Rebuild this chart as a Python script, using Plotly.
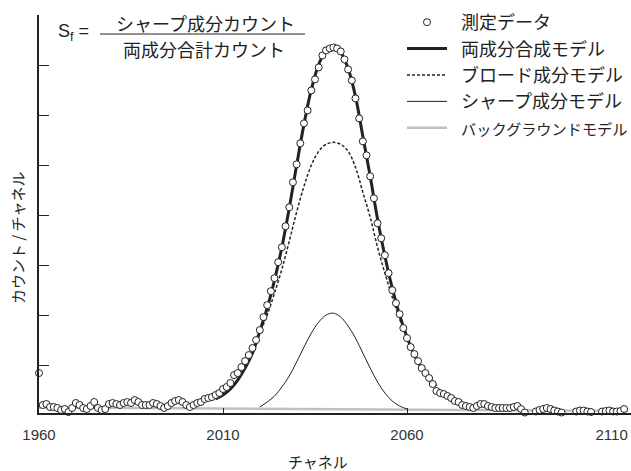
import plotly.graph_objects as go

# ---------------- data ----------------
channels = list(range(1960, 2120))
counts = [
    40,
    8, 9, 6, 6, 5, 3, 4, 1, 5,
    10, 8, 5, 4, 7, 11, 5, 3, 4, 9,
    10, 9, 8, 10, 11, 10, 13, 11, 8, 8,
    8, 10, 9, 7, 5, 7, 10, 12, 13, 11,
    8, 6, 8, 10, 11, 14, 15, 16, 18, 20,
    24, 26, 30, 38, 40, 46, 52, 58, 65, 73,
    83, 96, 108, 122, 135, 151, 166, 187, 206, 231,
    249, 270, 290, 303, 323, 334, 346, 358, 363, 365,
    366, 365, 362, 354, 344, 333, 315, 295, 272, 258,
    237, 215, 190, 175, 158, 140, 123, 110, 99, 85,
    75, 66, 59, 52, 45, 40, 35, 29, 22, 20,
    19, 17, 15, 12, 11, 8, 7, 6, 5, 7,
    9, 9, 7, 6, 5, 5, 5, 5, 5, 6,
    7, 4, 0.5, None, None, 1.5, 3, 4, 5, 4,
    2.5, 1.5, 0.5, None, None, None, 1.5, 2.5, 2.5, 1.5,
    1, None, None, 1.5, 2, 2.5, 1.5, 1.5, 2, 4,
]

model_channels = list(range(2008, 2070, 2))
total_model = [14, 18, 24, 33, 45, 60, 82, 105, 133, 166, 205, 248, 289, 324, 349,
               363, 367, 361, 345, 317, 277, 237, 194, 157, 125, 98, 76, 58, 45, 35, 27]
broad_model = [14, 18, 24, 33, 45, 59, 80, 98, 120, 144, 172, 201, 227, 248, 262,
               269, 271, 269, 262, 246, 221, 196, 166, 140, 116, 94, 75, 58, 45, 35, 27]

sharp_channels = list(range(2020, 2062, 2))
sharp_model = [6, 11, 17, 26, 37, 51, 66, 80, 91, 98, 100, 96, 87, 75, 60, 45, 31, 20, 12, 7, 4]

bg_channels = [1960, 2120]
bg_model = [5.5, 2.0]

x_tick_vals = [1960, 2010, 2060, 2115.6]
x_tick_text = ["1960", "2010", "2060", "2110"]
x_minor_ticks = [2010, 2060]
y_tick_vals = [48, 98, 148, 198, 248, 298, 348, 398]

SP = "\u2002"  # gap between legend sample and label
names = [SP + "測定データ", SP + "両成分合成モデル", SP + "ブロード成分モデル",
         SP + "シャープ成分モデル",
         SP + '<span style="font-size:15.2px">バックグラウンドモデル</span>']

# ---------------- layout geometry ----------------
W, H = 631, 471
L, R, T, B = 39, 0, 15, 58
PW, PH = W - L - R, H - T - B
PX_PER_CH = 3.68


def xp(px):
    return (px - L) / PW


def yp(py):
    return (H - B - py) / PH


JP = "Noto Sans CJK JP"
LAT = "Liberation Sans"
INK = "#222222"

fig = go.Figure()

fig.add_trace(go.Scatter(x=bg_channels, y=bg_model, mode="lines", name=names[4],
                         line=dict(color="#c0c0c0", width=2.5),
                         legendrank=5, legendgroup="e"))
fig.add_trace(go.Scatter(x=sharp_channels, y=sharp_model, mode="lines", name=names[3],
                         line=dict(color=INK, width=1, shape="spline"),
                         legendrank=4, legendgroup="d"))
fig.add_trace(go.Scatter(x=model_channels, y=broad_model, mode="lines", name=names[2],
                         line=dict(color=INK, width=1.5, dash="3px,2px", shape="spline"),
                         legendrank=3, legendgroup="c"))
fig.add_trace(go.Scatter(x=model_channels, y=total_model, mode="lines", name=names[1],
                         line=dict(color=INK, width=3, shape="spline"),
                         legendrank=2, legendgroup="b"))
fig.add_trace(go.Scatter(x=channels, y=counts, mode="markers", name=names[0],
                         marker=dict(symbol="circle", size=7, color="white",
                                     line=dict(color=INK, width=1)),
                         cliponaxis=False, connectgaps=False,
                         legendrank=1, legendgroup="a"))

fig.update_layout(
    width=W, height=H,
    margin=dict(l=L, r=R, t=T, b=B, autoexpand=False),
    paper_bgcolor="white", plot_bgcolor="white",
    font=dict(family=JP, color=INK),
    showlegend=True,
    legend=dict(x=xp(402), y=yp(4), xanchor="left", yanchor="top",
                font=dict(family=JP, size=18, color=INK),
                bgcolor="rgba(0,0,0,0)", itemwidth=40,
                traceorder="normal", tracegroupgap=1),
    xaxis=dict(range=[1960, 1960 + PW / PX_PER_CH], showline=True, linecolor=INK, linewidth=1.5,
               showgrid=False, zeroline=False, tickmode="array",
               tickvals=x_tick_vals, ticktext=x_tick_text, ticks="",
               tickfont=dict(family=LAT, size=15, color="#333333"),
               ticklabelstandoff=7,
               minor=dict(tickmode="array", tickvals=x_minor_ticks, ticks="inside",
                          ticklen=5, tickcolor=INK, tickwidth=1)),
    yaxis=dict(range=[0, PH + 0.5], showline=True, linecolor=INK, linewidth=1.5,
               showgrid=False, zeroline=False, tickmode="array", tickvals=y_tick_vals,
               ticks="inside", ticklen=10, tickcolor=INK, tickwidth=1,
               showticklabels=False),
)

ann = [
    dict(text="S<sub>f</sub> =", x=xp(73), y=yp(33), font=dict(family=LAT, size=18, color=INK)),
    dict(text="シャープ成分カウント", x=xp(205), y=yp(23), font=dict(family=JP, size=18, color=INK)),
    dict(text="両成分合計カウント", x=xp(204), y=yp(49), font=dict(family=JP, size=18, color=INK)),
    dict(text="カウント / チャネル", x=xp(17), y=yp(238), textangle=-90,
         font=dict(family=JP, size=15, color=INK)),
    dict(text="チャネル", x=xp(318), y=yp(461), font=dict(family=JP, size=15, color=INK)),
]
for a in ann:
    fig.add_annotation(xref="paper", yref="paper", showarrow=False,
                       xanchor="center", yanchor="middle", **a)

fig.add_shape(type="line", xref="paper", yref="paper",
              x0=xp(100), x1=xp(305), y0=yp(34), y1=yp(34),
              line=dict(color=INK, width=1))

fig.write_html("out.html")
